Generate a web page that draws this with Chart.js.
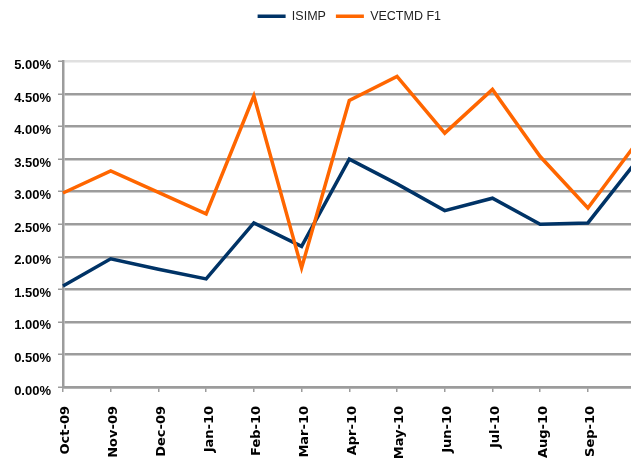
<!DOCTYPE html>
<html>
<head>
<meta charset="utf-8">
<script src="https://cdn.jsdelivr.net/npm/chart.js@4.4.1/dist/chart.umd.min.js"></script>
<style>
  html, body { margin: 0; padding: 0; background: #fff; overflow: hidden; }
  #wrap { width: 631px; height: 460px; overflow: hidden; position: relative; }
  #c { display: block; }
</style>
</head>
<body>
<div id="wrap"><canvas id="c" width="690" height="460"></canvas></div>
<script>
// ---- data ----
const categories = ['Oct-09','Nov-09','Dec-09','Jan-10','Feb-10','Mar-10','Apr-10','May-10','Jun-10','Jul-10','Aug-10','Sep-10','Oct-10'];
const isimp   = [1.55, 1.97, 1.81, 1.66, 2.52, 2.16, 3.50, 3.12, 2.71, 2.90, 2.50, 2.52, 3.45];
const vectmd  = [2.98, 3.32, 2.99, 2.66, 4.47, 1.83, 4.40, 4.77, 3.90, 4.57, 3.54, 2.75, 3.73];
const seriesNames = ['ISIMP', 'VECTMD F1'];
const yTickMin = 0, yTickMax = 5, yTickStep = 0.5;
const hiddenLabels = ['Oct-10'];

// ---- layout constants ----
const LEGEND_H = 61.5;
const AREA_LEFT = 63;
const AREA_BOTTOM = 387;
const CANVAS_H = 460;
const GRID = '#9c9c9c';

const legendHeightPlugin = {
  id: 'legendHeight',
  beforeLayout(chart) {
    const lg = chart.legend;
    if (lg && !lg.__fixed) {
      const orig = lg.fit;
      lg.fit = function () { orig.call(this); this.height = LEGEND_H; };
      lg.__fixed = true;
    }
  }
};

new Chart(document.getElementById('c'), {
  type: 'line',
  data: {
    labels: categories,
    datasets: [
      { label: seriesNames[0], data: isimp, borderColor: '#003366', backgroundColor: '#003366',
        borderWidth: 3.5, pointRadius: 0, tension: 0, order: 1, borderJoinStyle: 'miter' },
      { label: seriesNames[1], data: vectmd, borderColor: '#FF6600', backgroundColor: '#FF6600',
        borderWidth: 3.5, pointRadius: 0, tension: 0, order: 0, borderJoinStyle: 'miter' }
    ]
  },
  options: {
    responsive: false,
    animation: false,
    devicePixelRatio: 1,
    layout: { padding: { top: 0, left: 0, right: 54.4, bottom: 0 } },
    plugins: {
      tooltip: { enabled: false },
      legend: {
        position: 'top',
        fullSize: false,
        labels: {
          usePointStyle: true,
          pointStyle: 'line',
          pointStyleWidth: 28,
          padding: 10,
          color: '#222',
          font: { family: "'Liberation Sans Narrow', 'Arial Narrow', 'Liberation Sans', Arial, sans-serif", size: 12.5 },
          sort: (a, b) => a.datasetIndex - b.datasetIndex
        }
      }
    },
    scales: {
      x: {
        offset: false,
        afterFit(scale) { scale.height = CANVAS_H - AREA_BOTTOM; },
        grid: { drawOnChartArea: false, drawTicks: true, tickLength: 5, color: GRID, lineWidth: 1.5 },
        border: { display: true, color: GRID, width: 2.5 },
        ticks: {
          autoSkip: false,
          maxRotation: 90,
          minRotation: 90,
          padding: 14,
          labelOffset: 3,
          color: '#000',
          font: { family: "'DejaVu Sans', sans-serif", weight: 'bold', size: 13 },
          callback(value, index) {
            const l = categories[index];
            return hiddenLabels.includes(l) ? '' : l;
          }
        }
      },
      y: {
        min: yTickMin,
        max: yTickMax,
        afterFit(scale) { scale.width = AREA_LEFT; },
        grid: {
          color: (ctx) => (ctx.tick && ctx.tick.value === yTickMax) ? '#e0e0e0' : GRID,
          lineWidth: 2.5,
          tickLength: 5,
          tickColor: GRID,
          tickWidth: 1.5,
          tickBorderDash: []
        },
        border: { display: true, color: GRID, width: 2.5, dash: [] },
        ticks: {
          stepSize: yTickStep,
          padding: 7,
          labelOffset: 4,
          color: '#000',
          font: { family: "'Liberation Sans', Arial, sans-serif", weight: 'bold', size: 13 },
          callback: (v) => Number(v).toFixed(2) + '%'
        }
      }
    }
  },
  plugins: [legendHeightPlugin]
});
</script>
</body>
</html>
